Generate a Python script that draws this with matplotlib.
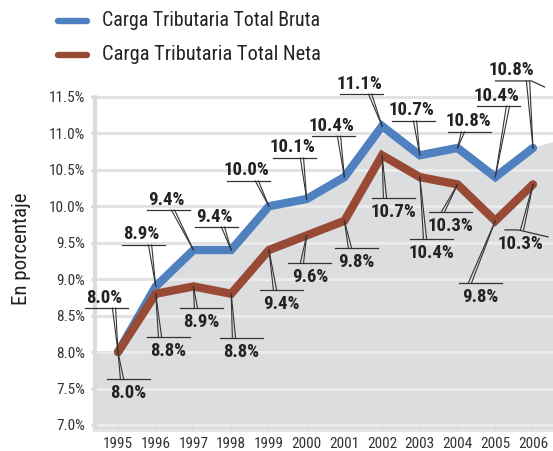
import numpy as np
import matplotlib.pyplot as plt
from matplotlib import font_manager as fm
from matplotlib.lines import Line2D
from matplotlib.patches import Polygon
from matplotlib.transforms import IdentityTransform

years = list(range(1995, 2007))
bruta = [8.0, 8.9, 9.4, 9.4, 10.0, 10.1, 10.4, 11.1, 10.7, 10.8, 10.4, 10.8]
neta = [8.0, 8.8, 8.9, 8.8, 9.4, 9.6, 9.8, 10.7, 10.4, 10.3, 9.8, 10.3]
area_tail = 10.88  # grey area keeps going past 2006
yticks = [7.0, 7.5, 8.0, 8.5, 9.0, 9.5, 10.0, 10.5, 11.0, 11.5]
serie_names = ["Carga Tributaria Total Bruta", "Carga Tributaria Total Neta"]

BLUE = "#4f80bf"
BROWN = "#984a35"
GREY = "#dcdddf"

# callout placement in pixels: underline centre offset from point (dx, dy up), leader x offset
pos_bruta = [(-11.5, 44, -4), (-12, 41.5, -5.7), (-25, 40, -20.5), (-14.7, 23, -8.2),
             (-20.4, 25.3, -12), (-11.7, 41, -4.7), (-11, 41, -5.4), (-20.6, 32, -12),
             (-6.3, 34.3, -4.8), (12.4, 16, 5.4), (3.2, 71, 12.7), (-19.5, 67, -5)]
pos_neta = [(10.5, -27, 4), (12.3, -43.6, 4.3), (8, -22, 2.5), (10.3, -44.6, 2.8),
            (12.6, -40, 6.1), (3.3, -27.6, -4.7), (12.1, -27.2, 5.6), (11.4, -42.7, 2.9),
            (11.7, -61.8, 5.2), (-6.6, -27.5, -14.6), (-14.8, -62, -25.3), (-21.5, -45.5, -11)]


def pick_font(bold):
    # look for a condensed / narrow face, the chart uses a condensed grotesque
    prefs = ["Roboto", "Liberation", "Open Sans", "Noto Sans", "DejaVu"]
    best, best_rank = None, 99
    for f in fm.fontManager.ttflist:
        path = f.fname
        low = (f.name + " " + path).lower()
        cond = ("condensed" in low or "narrow" in low or str(f.stretch) in ("condensed", "semi-condensed"))
        if not cond or f.style != "normal" or "italic" in low or "oblique" in low:
            continue
        w = f.weight if isinstance(f.weight, int) else fm.weight_dict.get(f.weight, 400)
        if bold and w < 600:
            continue
        if not bold and not (350 <= w <= 450):
            continue
        rank = 50
        for k, p in enumerate(prefs):
            if p.lower() in low:
                rank = k
                break
        if bold and w != 700:
            rank += 10
        if rank < best_rank:
            best, best_rank = path, rank
    if best is None:
        return fm.FontProperties(family="DejaVu Sans", weight="bold" if bold else "normal")
    return fm.FontProperties(fname=best)


F_REG = pick_font(False)
F_BOLD = pick_font(True)


def fp(base, size):
    p = base.copy()
    p.set_size(size)
    return p


W, H = 553, 451
fig = plt.figure(figsize=(W / 100, H / 100), dpi=100)
ax = fig.add_axes([95 / W, 21 / H, 458 / W, 340 / H])
ax.set_xlim(1994.39, 2006.53)
ax.set_ylim(6.931, 11.595)

# grey area under the gross series
ax_x = [1994.39] + years + [2006.53]
ax_y = [bruta[0]] + bruta + [area_tail]
verts = list(zip(ax_x, ax_y)) + [(2006.53, 6.931), (1994.39, 6.931)]
area = Polygon(verts, closed=True, facecolor=GREY, edgecolor="none", zorder=1)
ax.add_patch(area)

for y in yticks:
    ax.axhline(y, color="#e2e2e2", lw=2.2, zorder=0.5)
    g = ax.axhline(y, color="#ebebec", lw=2.2, zorder=1.5)
    g.set_clip_path(area)

ax.plot(years, bruta, color=BLUE, lw=6, solid_capstyle="round", solid_joinstyle="miter", zorder=3)
ax.plot(years, neta, color=BROWN, lw=6, solid_capstyle="round", solid_joinstyle="miter", zorder=4)

for s in ["top", "right"]:
    ax.spines[s].set_visible(False)
ax.spines["left"].set_color("#dcdcdc")
ax.spines["left"].set_linewidth(3)
ax.spines["left"].set_bounds(6.931, 11.5)
ax.spines["bottom"].set_color("#e4e4e4")
ax.spines["bottom"].set_linewidth(2)

ax.set_yticks(yticks)
ax.set_yticklabels([f"{v:.1f}%" for v in yticks])
ax.set_xticks(years)
ax.set_xticklabels([str(y) for y in years])
ax.tick_params(axis="y", length=3, width=2, color="#d4d4d4", pad=4.3, labelcolor="#333333")
ax.tick_params(axis="x", length=3, width=1.5, color="#d8d8d8", direction="in", pad=5,
               labelcolor="#333333")
for lab in ax.get_xticklabels() + ax.get_yticklabels():
    lab.set_fontproperties(fp(F_REG, 11))

ident = IdentityTransform()
renderer = fig.canvas.get_renderer()

ylab = fig.text(22, H - 248.5, "En porcentaje", transform=ident, rotation=90,
                ha="center", va="center", fontproperties=fp(F_REG, 15), color="#222222")
hpx = ylab.get_window_extent(renderer).height
ylab.set_fontsize(min(21, 15 * 113 / hpx))

# legend drawn by hand
for i, (name, col) in enumerate(zip(serie_names, [BLUE, BROWN])):
    yy = H - 21 - 34 * i
    fig.add_artist(Line2D([58, 87], [yy, yy], transform=ident, color=col,
                          lw=4.6, solid_capstyle="round"))
    t = fig.text(102, yy, name, transform=ident, ha="left", va="center",
                 fontproperties=fp(F_REG, 15), color="#222222")
    wpx = t.get_window_extent(renderer).width
    t.set_fontsize(min(17, 15 * 218 / wpx))

trans = ax.transData


def callout(x, v, off, above, tail=None):
    px, py = trans.transform((x, v))
    dx, dy, adx = off
    ux, uy = px + dx, py + dy
    if tail is None:
        xs, ys = [ux - 21.5, ux + 21.5], [uy, uy]
    else:
        xs, ys = tail(ux, uy)
    fig.add_artist(Line2D(xs, ys, transform=ident, color="#333333", lw=0.9, zorder=6))
    for k in (-1.6, 1.6):
        fig.add_artist(Line2D([px + adx + k, px], [uy, py], transform=ident,
                              color="#333333", lw=0.8, zorder=6))
    txt = f"{v:.1f}%"
    if above:
        fig.text(ux - 2, uy + 10.5, txt, transform=ident, ha="center", va="center",
                 fontproperties=fp(F_BOLD, 13.5), color="#222222", zorder=7)
    else:
        tx = ux + (9 if tail is not None else 0)
        fig.text(tx, uy - 14, txt, transform=ident, ha="center", va="center",
                 fontproperties=fp(F_BOLD, 13.5), color="#222222", zorder=7)


for i, (yr, v) in enumerate(zip(years, bruta)):
    tail = None
    if i == len(years) - 1:
        tail = lambda ux, uy: ([ux - 18, ux + 18, ux + 31], [uy, uy, uy - 6])
    callout(yr, v, pos_bruta[i], True, tail)

for i, (yr, v) in enumerate(zip(years, neta)):
    tail = None
    if i == len(years) - 1:
        tail = lambda ux, uy: ([ux - 6.5, ux + 6.5, ux + 36.5], [uy, uy, uy - 7])
    callout(yr, v, pos_neta[i], False, tail)

fig.savefig("out.png", dpi=100)
